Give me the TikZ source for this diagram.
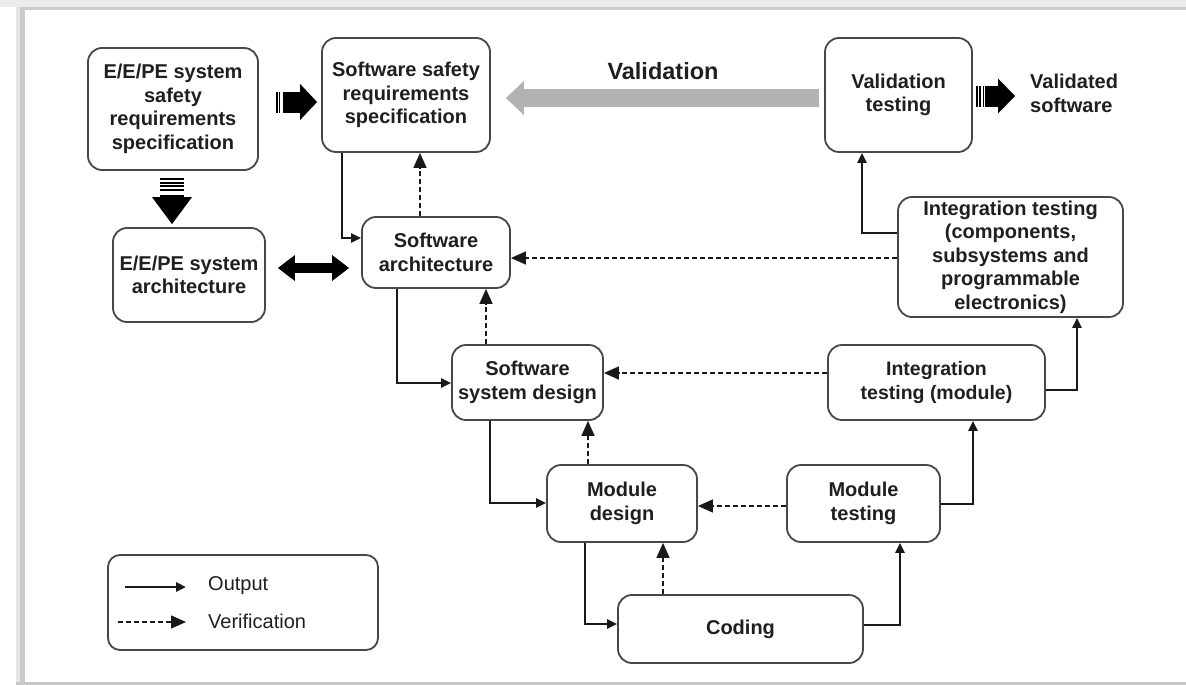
\documentclass[tikz,border=0pt]{standalone}
\usepackage{fontspec}
\setmainfont{Liberation Sans}
\usetikzlibrary{arrows.meta,calc}
\begin{document}
\begin{tikzpicture}[x=1pt,y=-1pt,
  box/.style={draw=black!72, line width=1.8pt, rounded corners=14pt, fill=white,
    align=center, inner sep=0pt, text=black!88,
    font=\fontsize{20}{23.5}\selectfont\bfseries},
  plain/.style={inner sep=0pt, text=black!88, font=\fontsize{20}{23.5}\selectfont},
  outarr/.style={draw=black!90, line width=2.5pt, -{Triangle[length=10pt,width=9pt]}},
  verarr/.style={draw=black!90, line width=1.4pt, dash pattern=on 5pt off 3pt,
    -{Triangle[length=15pt,width=13pt]}},
  stripes/.style={draw=black, dash pattern=on 1.8pt off 1.6pt},
]
\useasboundingbox (0,0) rectangle (1186,685);
% frame
\fill[white] (0,0) rectangle (1186,685);
\fill[black!8] (0,0) rectangle (1186,7);
\fill[black!20] (16,7) rectangle (1186,10);
\fill[black!10] (16,7) rectangle (20,685);
\fill[black!20] (20,10) rectangle (25,682);
\fill[black!22] (16,682) rectangle (1186,685);

% nodes
\node[box, minimum width=170pt, minimum height=122pt] (eesrs) at (173,109)
  {E/E/PE system\\safety\\requirements\\specification};
\node[box, minimum width=168pt, minimum height=114pt] (ssrs) at (406,95)
  {Software safety\\requirements\\specification};
\node[box, minimum width=152pt, minimum height=94pt] (eearch) at (189,275)
  {E/E/PE system\\architecture};
\node[box, minimum width=148pt, minimum height=71pt] (swarch) at (436,252.5)
  {Software\\architecture};
\node[box, minimum width=147pt, minimum height=114pt] (valtest) at (898.5,95)
  {Validation\\testing};
\node[plain, font=\fontsize{20}{24}\selectfont\bfseries, align=left, anchor=west] (valsw) at (1030,93)
  {Validated\\software};
\node[box, minimum width=225pt, minimum height=120pt] (inttestc) at (1010.5,257)
  {Integration testing\\(components,\\subsystems and\\programmable\\electronics)};
\node[box, minimum width=217pt, minimum height=75pt, font=\fontsize{19.5}{23.5}\selectfont\bfseries] (inttestm) at (936.5,382.5)
  {Integration\\testing (module)};
\node[box, minimum width=153pt, minimum height=77pt] (modtest) at (863.5,503.5)
  {Module\\testing};
\node[box, minimum width=245pt, minimum height=68pt] (coding) at (740.5,629)
  {Coding};
\node[box, minimum width=150pt, minimum height=77pt] (moddes) at (622,503.5)
  {Module\\design};
\node[box, minimum width=151pt, minimum height=75pt] (sysdes) at (527.5,382.5)
  {Software\\system design};
\node[plain, font=\fontsize{23.5}{26}\selectfont\bfseries] (vallabel) at (663,71) {Validation};

% legend
\node[box, minimum width=270pt, minimum height=95pt, rounded corners=12pt] (legend) at (243,602.5) {};
\node[plain, anchor=west] (lout) at (208,586) {Output};
\node[plain, anchor=west] (lver) at (208,621) {Verification};
\coordinate (lo1) at (125,587);
\coordinate (lv1) at (118,622);
\draw[outarr] (lo1) -- (lout.west |- lo1) [shorten >=22pt];
\draw[verarr] (lv1) -- (lver.west |- lv1) [shorten >=22pt];

% big arrows
\coordinate (a1) at (0,102);
\draw[stripes, line width=21pt, shorten <=17pt, shorten >=41pt] (eesrs.east |- a1) -- (ssrs.west |- a1);
\draw[line width=21pt, -{Triangle[length=17pt,width=36pt,line width=0pt]}, shorten <=24pt, shorten >=4pt]
  (eesrs.east |- a1) -- (ssrs.west |- a1);

\coordinate (a2) at (172,0);
\draw[stripes, line width=24pt, dash pattern=on 2pt off 1.6pt, shorten <=7pt, shorten >=35pt] (eesrs.south -| a2) -- (eearch.north -| a2);
\draw[line width=24pt, -{Triangle[length=27pt,width=40pt,line width=0pt]}, shorten <=24pt, shorten >=3pt]
  (eesrs.south -| a2) -- (eearch.north -| a2);

\coordinate (a3) at (0,268);
\draw[line width=10pt, {Triangle[length=17pt,width=26pt,line width=0pt]}-{Triangle[length=17pt,width=26pt,line width=0pt]}, shorten <=12pt, shorten >=12pt]
  (eearch.east |- a3) -- (swarch.west |- a3);

\coordinate (a4) at (0,96);
\draw[stripes, line width=21pt, shorten <=3pt, shorten >=46pt] (valtest.east |- a4) -- (valsw.west |- a4);
\draw[line width=21pt, -{Triangle[length=17pt,width=35pt,line width=0pt]}, shorten <=12pt, shorten >=15pt]
  (valtest.east |- a4) -- (valsw.west |- a4);

\coordinate (a5) at (0,98);
\draw[black!30, line width=18pt, -{Triangle[length=18pt,width=34pt,line width=0pt]}, shorten <=5pt, shorten >=15pt]
  (valtest.west |- a5) -- (ssrs.east |- a5);

% output connectors
\coordinate (k1) at (342,238);
\draw[outarr] (ssrs.south -| k1) |- (swarch.west |- k1);
\coordinate (k4) at (862,233);
\draw[outarr] (inttestc.west |- k4) -| (valtest.south -| k4);
\coordinate (k5) at (397,383);
\draw[outarr] (swarch.south -| k5) |- (sysdes.west |- k5);
\coordinate (k8) at (1077,390);
\draw[outarr] (inttestm.east |- k8) -| (inttestc.south -| k8);
\coordinate (k9) at (490,503);
\draw[outarr] (sysdes.south -| k9) |- (moddes.west |- k9);
\coordinate (k12) at (973,504);
\draw[outarr] (modtest.east |- k12) -| (inttestm.south -| k12);
\coordinate (k13) at (585,624);
\draw[outarr] (moddes.south -| k13) |- (coding.west |- k13);
\coordinate (k15) at (900,625);
\draw[outarr] (coding.east |- k15) -| (modtest.south -| k15);

% verification connectors
\coordinate (k2) at (420,0);
\draw[verarr] (swarch.north -| k2) -- (ssrs.south -| k2);
\coordinate (k3) at (0,258);
\draw[verarr] (inttestc.west |- k3) -- (swarch.east |- k3);
\coordinate (k6) at (486,0);
\draw[verarr] (sysdes.north -| k6) -- (swarch.south -| k6);
\coordinate (k7) at (0,373);
\draw[verarr] (inttestm.west |- k7) -- (sysdes.east |- k7);
\coordinate (k10) at (588,0);
\draw[verarr] (moddes.north -| k10) -- (sysdes.south -| k10);
\coordinate (k11) at (0,506);
\draw[verarr] (modtest.west |- k11) -- (moddes.east |- k11);
\coordinate (k14) at (663,0);
\draw[verarr] (coding.north -| k14) -- (moddes.south -| k14);
\end{tikzpicture}
\end{document}
